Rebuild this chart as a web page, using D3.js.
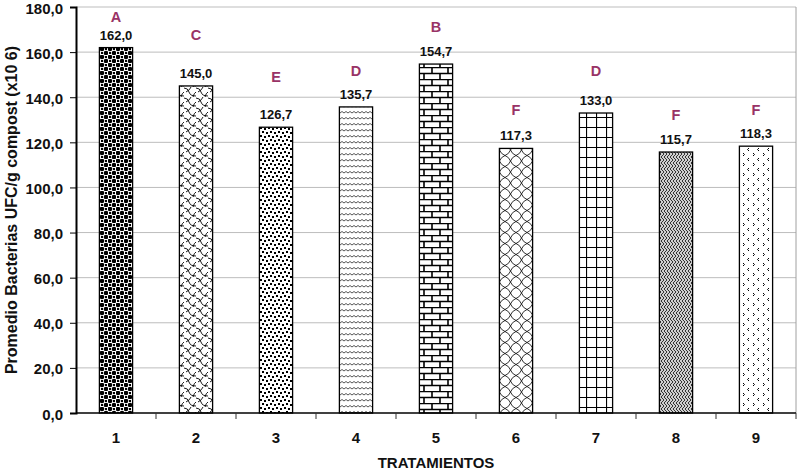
<!DOCTYPE html>
<html>
<head>
<meta charset="utf-8">
<script src="https://cdn.jsdelivr.net/npm/d3@7"></script>
<style>
  body { margin: 0; background: #fff; }
  svg text { font-family: "Liberation Sans", Arial, sans-serif; font-weight: bold; }
</style>
</head>
<body>
<div id="chart"></div>
<script>
// data
const treatments = ["1", "2", "3", "4", "5", "6", "7", "8", "9"]
const means = [162.0, 145.0, 126.7, 135.7, 154.7, 117.3, 133.0, 115.7, 118.3]
const letters = ["A", "C", "E", "D", "B", "F", "D", "F", "F"]
// height (in axis units) where each significance letter sits
const letterLevels = [175.5, 167.5, 149, 151.5, 171, 134.5, 151.5, 132, 134.5]
const yTicks = [0, 20, 40, 60, 80, 100, 120, 140, 160, 180]

const MARGIN = { TOP: 7, BOTTOM: 57, LEFT: 76, RIGHT: 14 }
const WIDTH = 810 - MARGIN.LEFT - MARGIN.RIGHT
const HEIGHT = 470 - MARGIN.TOP - MARGIN.BOTTOM

const svg = d3.select("#chart").append("svg")
    .attr("width", 810)
    .attr("height", 470)

const defs = svg.append("defs")

// one fill pattern per treatment, roughly like the excel ones
function pat(id, w, h, bg) {
    const p = defs.append("pattern")
        .attr("id", id)
        .attr("patternUnits", "userSpaceOnUse")
        .attr("width", w).attr("height", h)
    p.append("rect").attr("width", w).attr("height", h).attr("fill", bg)
    return p
}

// 1 - spheres
let p = pat("p1", 8, 8, "#fff")
p.append("circle").attr("cx", 2).attr("cy", 2).attr("r", 2.3).attr("fill", "#000")
p.append("circle").attr("cx", 6).attr("cy", 6).attr("r", 2.3).attr("fill", "#000")
p.append("rect").attr("x", 5).attr("y", 1).attr("width", 2).attr("height", 2).attr("fill", "#000")
p.append("rect").attr("x", 1).attr("y", 5).attr("width", 2).attr("height", 2).attr("fill", "#000")

// 2 - shingle
p = pat("p2", 12, 10, "#fff")
p.append("path").attr("d", "M0,1 Q4,1 5,5 Q6,9 12,9 M7,0 Q6,3 2,5 M12,5 Q10,6 9,10")
    .attr("fill", "none").attr("stroke", "#000").attr("stroke-width", 0.9)

// 3 - confetti
p = pat("p3", 8, 8, "#fff")
p.append("rect").attr("x", 0).attr("y", 0).attr("width", 2).attr("height", 2).attr("fill", "#000")
p.append("rect").attr("x", 4).attr("y", 1).attr("width", 2).attr("height", 2).attr("fill", "#000")
p.append("rect").attr("x", 2).attr("y", 4).attr("width", 2).attr("height", 2).attr("fill", "#000")
p.append("rect").attr("x", 6).attr("y", 5).attr("width", 2).attr("height", 2).attr("fill", "#000")

// 4 - wave
p = pat("p4", 8, 6, "#fff")
p.append("path").attr("d", "M0,4 Q2,1 4,4 Q6,1 8,4")
    .attr("fill", "none").attr("stroke", "#555").attr("stroke-width", 1)

// 5 - horizontal bricks
p = pat("p5", 16, 12, "#fff")
p.append("path").attr("d", "M0,0.5 H16 M0,6.5 H16 M4,0 V6 M12,6 V12")
    .attr("fill", "none").attr("stroke", "#000").attr("stroke-width", 1.6)

// 6 - lattice with curves
p = pat("p6", 11, 11, "#fff")
p.append("path").attr("d", "M0,5.5 Q4,4 5.5,0 M5.5,0 Q7,4 11,5.5 M11,5.5 Q7,7 5.5,11 M5.5,11 Q4,7 0,5.5")
    .attr("fill", "none").attr("stroke", "#000").attr("stroke-width", 0.8)

// 7 - large grid
p = pat("p7", 10, 10, "#fff")
p.append("path").attr("d", "M0,0.5 H10 M0.5,0 V10")
    .attr("fill", "none").attr("stroke", "#000").attr("stroke-width", 1.2)

// 8 - weave
p = pat("p8", 6, 6, "#d0d0d0")
p.append("path").attr("d", "M0,0 L3,3 L0,6 M3,0 L6,3 M6,3 L3,6")
    .attr("fill", "none").attr("stroke", "#333").attr("stroke-width", 1)

// 9 - divot
p = pat("p9", 10, 10, "#fff")
p.append("path").attr("d", "M3,1 L1.5,2.5 L3,4 M7,6 L8.5,7.5 L7,9")
    .attr("fill", "none").attr("stroke", "#000").attr("stroke-width", 1)

const g = svg.append("g")
    .attr("transform", `translate(${MARGIN.LEFT}, ${MARGIN.TOP})`)

const y = d3.scaleLinear()
    .domain([0, 180])
    .range([HEIGHT, 0])

const x = d3.scaleBand()
    .domain(treatments)
    .range([0, WIDTH])
    .paddingInner(0.585)
    .paddingOuter(0.2925)

// gridlines
g.append("g")
    .selectAll("line")
    .data(yTicks.filter(d => d > 0))
    .enter().append("line")
        .attr("x1", 0).attr("x2", WIDTH)
        .attr("y1", d => y(d)).attr("y2", d => y(d))
        .attr("stroke", "#bdbdbd").attr("stroke-width", 1)

// right border
g.append("line")
    .attr("x1", WIDTH).attr("x2", WIDTH)
    .attr("y1", 0).attr("y2", HEIGHT)
    .attr("stroke", "#a0a0a0")

// bars
g.selectAll("rect.bar")
    .data(means)
    .enter().append("rect")
        .attr("class", "bar")
        .attr("x", (d, i) => x(treatments[i]))
        .attr("y", d => y(d))
        .attr("width", x.bandwidth())
        .attr("height", d => HEIGHT - y(d))
        .attr("fill", (d, i) => `url(#p${i + 1})`)
        .attr("stroke", "#000")
        .attr("stroke-width", 1.3)

// y axis
const yAxisCall = d3.axisLeft(y)
    .tickValues(yTicks)
    .tickSize(6)
    .tickFormat(d => d3.format(".1f")(d).replace(".", ","))
const yAxisGroup = g.append("g").call(yAxisCall)
yAxisGroup.select(".domain").attr("stroke", "#000").attr("stroke-width", 2)
yAxisGroup.selectAll("text")
    .attr("font-size", 15)
    .attr("font-family", "'Liberation Sans', Arial, sans-serif")
    .attr("font-weight", "bold")
    .attr("fill", "#111")
    .attr("dx", -4)
    .attr("dy", "0.4em")

// x axis: ticks between categories
const xAxisGroup = g.append("g").attr("transform", `translate(0,${HEIGHT})`)
xAxisGroup.append("line")
    .attr("x1", 0).attr("x2", WIDTH)
    .attr("stroke", "#000").attr("stroke-width", 1.3)
xAxisGroup.selectAll("line.tk")
    .data(treatments.slice(1))
    .enter().append("line")
        .attr("class", "tk")
        .attr("x1", d => x(d) - (x.step() - x.bandwidth()) / 2)
        .attr("x2", d => x(d) - (x.step() - x.bandwidth()) / 2)
        .attr("y1", 0).attr("y2", 6)
        .attr("stroke", "#333")
xAxisGroup.append("line")
    .attr("x1", WIDTH).attr("x2", WIDTH).attr("y1", 0).attr("y2", 6).attr("stroke", "#333")
xAxisGroup.selectAll("text.cat")
    .data(treatments)
    .enter().append("text")
        .attr("class", "cat")
        .attr("x", d => x(d) + x.bandwidth() / 2)
        .attr("y", 30)
        .attr("text-anchor", "middle")
        .attr("font-size", 15)
        .attr("fill", "#111")
        .text(d => d)

// value labels
g.selectAll("text.val")
    .data(means)
    .enter().append("text")
        .attr("class", "val")
        .attr("x", (d, i) => x(treatments[i]) + x.bandwidth() / 2)
        .attr("y", d => y(d) - 8)
        .attr("text-anchor", "middle")
        .attr("font-size", 13)
        .attr("fill", "#111")
        .text(d => d3.format(".1f")(d).replace(".", ","))

// significance letters
g.selectAll("text.let")
    .data(letters)
    .enter().append("text")
        .attr("class", "let")
        .attr("x", (d, i) => x(treatments[i]) + x.bandwidth() / 2)
        .attr("y", (d, i) => y(letterLevels[i]) + 5)
        .attr("text-anchor", "middle")
        .attr("font-size", 14.5)
        .attr("fill", "#993366")
        .text(d => d)

// axis titles
svg.append("text")
    .attr("x", MARGIN.LEFT + WIDTH / 2)
    .attr("y", 468)
    .attr("text-anchor", "middle")
    .attr("font-size", 15)
    .attr("fill", "#111")
    .text("TRATAMIENTOS")

svg.append("text")
    .attr("transform", `translate(17, ${MARGIN.TOP + HEIGHT / 2}) rotate(-90)`)
    .attr("text-anchor", "middle")
    .attr("font-size", 16)
    .attr("fill", "#111")
    .text("Promedio Bacterias UFC/g compost (x10 6)")
</script>
</body>
</html>
